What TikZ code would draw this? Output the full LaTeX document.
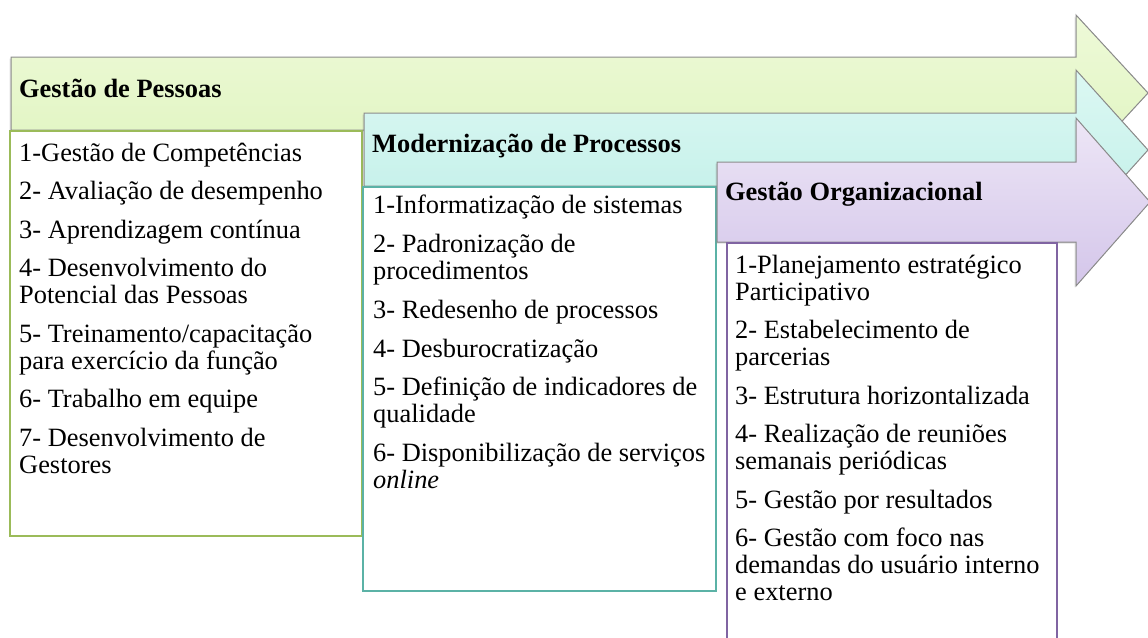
\documentclass[tikz,border=0pt]{standalone}
\usepackage{fontspec}
\setmainfont{Liberation Serif}
\usetikzlibrary{shadows}
\newcommand{\itemstrut}{\rule{0pt}{25pt}}

\definecolor{gptop}{HTML}{EEFAD8}
\definecolor{gpbot}{HTML}{DFF4BF}
\definecolor{gpline}{HTML}{9BBB59}
\definecolor{mptop}{HTML}{DCF8F3}
\definecolor{mpbot}{HTML}{C0EFE8}
\definecolor{mpline}{HTML}{5BB2A6}
\definecolor{gotop}{HTML}{EDE6F6}
\definecolor{gobot}{HTML}{D4C6EA}
\definecolor{goline}{HTML}{8064A2}

\begin{document}
\begin{tikzpicture}[x=1pt,y=-1pt,
   bigarrow/.style={draw=black!45,line width=1pt,
     drop shadow={opacity=0.25,shadow xshift=-1.5pt,shadow yshift=-1.5pt}},
   listbox/.style={fill=white,line width=1.6pt},
   headtext/.style={anchor=base west,inner sep=0pt,
     font=\fontsize{26.4}{27}\selectfont\bfseries},
   itemtext/.style={anchor=north west,inner sep=0pt,align=left,
     font=\fontsize{26.4}{27}\selectfont}]
   \useasboundingbox (0,0) rectangle (1148,637);

   % Gestao de Pessoas
   \filldraw[bigarrow,top color=gptop,bottom color=gpbot]
     (11,57) -- (1076,57) -- (1076,15) -- (1148,93) -- (1076,171)
     -- (1076,130) -- (11,130) -- cycle;
   \node[headtext] (gp) at (19,97) {Gestão de Pessoas};
   \draw[listbox,draw=gpline] (10,131) rectangle (362,536);
   \node[itemtext] (gplist) at (19,136) {\itemstrut 1-Gestão de Competências\\[11.5pt]
     2- Avaliação de desempenho\\[11.5pt]
     3- Aprendizagem contínua\\[11.5pt]
     4- Desenvolvimento do\\ Potencial das Pessoas\\[11.5pt]
     5- Treinamento/capacitação\\ para exercício da função\\[11.5pt]
     6- Trabalho em equipe\\[11.5pt]
     7- Desenvolvimento de\\ Gestores};

   % Modernizacao de Processos
   \filldraw[bigarrow,top color=mptop,bottom color=mpbot]
     (364,113) -- (1076,113) -- (1076,70) -- (1148,150) -- (1076,230)
     -- (1076,186) -- (364,186) -- cycle;
   \node[headtext] (mp) at (372,152) {Modernização de Processos};
   \draw[listbox,draw=mpline] (363,187) rectangle (716,591);
   \node[itemtext] (mplist) at (373,188) {\itemstrut 1-Informatização de sistemas\\[12pt]
     2- Padronização de\\ procedimentos\\[12pt]
     3- Redesenho de processos\\[12pt]
     4- Desburocratização\\[11.5pt]
     5- Definição de indicadores de\\ qualidade\\[11.5pt]
     6- Disponibilização de serviços\\ \textit{online}};

   % Gestao Organizacional
   \filldraw[bigarrow,top color=gotop,bottom color=gobot]
     (717,162) -- (1076,162) -- (1076,118) -- (1150,202) -- (1076,286)
     -- (1076,242) -- (717,242) -- cycle;
   \node[headtext] (go) at (725,200) {Gestão Organizacional};
   \draw[listbox,draw=goline] (727,243) rectangle (1057,660);
   \node[itemtext] (golist) at (735,248) {\itemstrut 1-Planejamento estratégico\\ Participativo\\[11.5pt]
     2- Estabelecimento de\\ parcerias\\[11.5pt]
     3- Estrutura horizontalizada\\[11.5pt]
     4- Realização de reuniões\\ semanais periódicas\\[11.5pt]
     5- Gestão por resultados\\[11.5pt]
     6- Gestão com foco nas\\ demandas do usuário interno\\ e externo};
\end{tikzpicture}
\end{document}
